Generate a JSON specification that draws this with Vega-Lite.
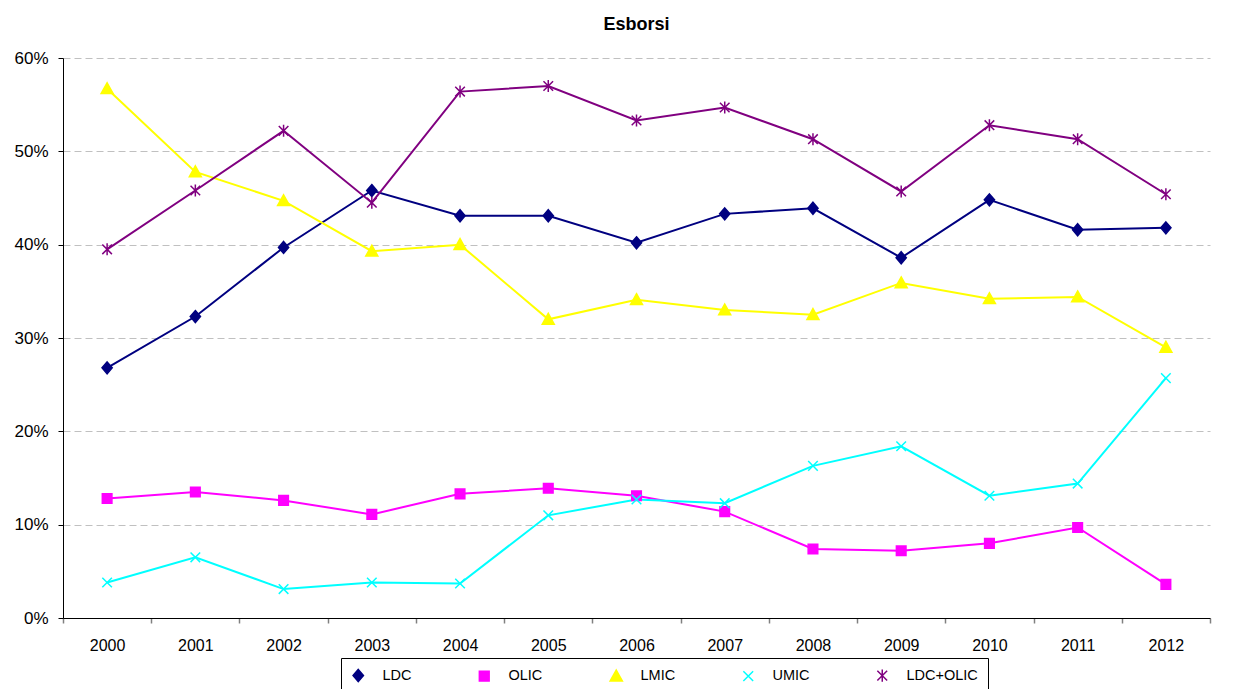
{
  "$schema": "https://vega.github.io/schema/vega-lite/v6.json",
  "width": 1147,
  "height": 560,
  "autosize": {"type": "none"},
  "padding": {"left": 63, "top": 58, "right": 34, "bottom": 71},
  "background": "white",
  "title": {
    "text": "Esborsi",
    "font": "Liberation Sans",
    "fontSize": 18,
    "fontWeight": "bold",
    "color": "black",
    "anchor": "middle",
    "frame": "group",
    "offset": 15
  },
  "config": {
    "view": {"stroke": null},
    "font": "Liberation Sans",
    "axis": {
      "labelFont": "Liberation Sans",
      "labelColor": "black",
      "domainColor": "black",
      "domainWidth": 1
    },
    "legend": {
      "title": null,
      "orient": "none",
      "legendX": 278,
      "legendY": 600,
      "direction": "horizontal",
      "columns": 5,
      "symbolSize": 150,
      "symbolStrokeWidth": 1.5,
      "labelOffset": 17,
      "columnPadding": 64,
      "padding": 10,
      "strokeColor": "black",
      "labelFont": "Liberation Sans",
      "labelFontSize": 14.5,
      "labelColor": "black",
      "labelLimit": 200
    }
  },
  "data": {
    "values": [
      {"year": "2000", "series": "LDC", "value": 0.268},
      {"year": "2001", "series": "LDC", "value": 0.323},
      {"year": "2002", "series": "LDC", "value": 0.397},
      {"year": "2003", "series": "LDC", "value": 0.458},
      {"year": "2004", "series": "LDC", "value": 0.431},
      {"year": "2005", "series": "LDC", "value": 0.431},
      {"year": "2006", "series": "LDC", "value": 0.402},
      {"year": "2007", "series": "LDC", "value": 0.433},
      {"year": "2008", "series": "LDC", "value": 0.439},
      {"year": "2009", "series": "LDC", "value": 0.386},
      {"year": "2010", "series": "LDC", "value": 0.448},
      {"year": "2011", "series": "LDC", "value": 0.416},
      {"year": "2012", "series": "LDC", "value": 0.418},
      {"year": "2000", "series": "OLIC", "value": 0.128},
      {"year": "2001", "series": "OLIC", "value": 0.135},
      {"year": "2002", "series": "OLIC", "value": 0.126},
      {"year": "2003", "series": "OLIC", "value": 0.111},
      {"year": "2004", "series": "OLIC", "value": 0.133},
      {"year": "2005", "series": "OLIC", "value": 0.139},
      {"year": "2006", "series": "OLIC", "value": 0.131},
      {"year": "2007", "series": "OLIC", "value": 0.114},
      {"year": "2008", "series": "OLIC", "value": 0.074},
      {"year": "2009", "series": "OLIC", "value": 0.072},
      {"year": "2010", "series": "OLIC", "value": 0.080},
      {"year": "2011", "series": "OLIC", "value": 0.097},
      {"year": "2012", "series": "OLIC", "value": 0.036},
      {"year": "2000", "series": "LMIC", "value": 0.567},
      {"year": "2001", "series": "LMIC", "value": 0.478},
      {"year": "2002", "series": "LMIC", "value": 0.447},
      {"year": "2003", "series": "LMIC", "value": 0.393},
      {"year": "2004", "series": "LMIC", "value": 0.400},
      {"year": "2005", "series": "LMIC", "value": 0.320},
      {"year": "2006", "series": "LMIC", "value": 0.341},
      {"year": "2007", "series": "LMIC", "value": 0.330},
      {"year": "2008", "series": "LMIC", "value": 0.325},
      {"year": "2009", "series": "LMIC", "value": 0.359},
      {"year": "2010", "series": "LMIC", "value": 0.342},
      {"year": "2011", "series": "LMIC", "value": 0.344},
      {"year": "2012", "series": "LMIC", "value": 0.290},
      {"year": "2000", "series": "UMIC", "value": 0.038},
      {"year": "2001", "series": "UMIC", "value": 0.065},
      {"year": "2002", "series": "UMIC", "value": 0.031},
      {"year": "2003", "series": "UMIC", "value": 0.038},
      {"year": "2004", "series": "UMIC", "value": 0.037},
      {"year": "2005", "series": "UMIC", "value": 0.110},
      {"year": "2006", "series": "UMIC", "value": 0.127},
      {"year": "2007", "series": "UMIC", "value": 0.123},
      {"year": "2008", "series": "UMIC", "value": 0.163},
      {"year": "2009", "series": "UMIC", "value": 0.184},
      {"year": "2010", "series": "UMIC", "value": 0.131},
      {"year": "2011", "series": "UMIC", "value": 0.144},
      {"year": "2012", "series": "UMIC", "value": 0.257},
      {"year": "2000", "series": "LDC+OLIC", "value": 0.395},
      {"year": "2001", "series": "LDC+OLIC", "value": 0.458},
      {"year": "2002", "series": "LDC+OLIC", "value": 0.522},
      {"year": "2003", "series": "LDC+OLIC", "value": 0.445},
      {"year": "2004", "series": "LDC+OLIC", "value": 0.564},
      {"year": "2005", "series": "LDC+OLIC", "value": 0.570},
      {"year": "2006", "series": "LDC+OLIC", "value": 0.533},
      {"year": "2007", "series": "LDC+OLIC", "value": 0.547},
      {"year": "2008", "series": "LDC+OLIC", "value": 0.513},
      {"year": "2009", "series": "LDC+OLIC", "value": 0.457},
      {"year": "2010", "series": "LDC+OLIC", "value": 0.528},
      {"year": "2011", "series": "LDC+OLIC", "value": 0.513},
      {"year": "2012", "series": "LDC+OLIC", "value": 0.454}
    ]
  },
  "encoding": {
    "x": {
      "field": "year",
      "type": "ordinal",
      "bandPosition": 0.5,
      "scale": {"type": "band", "paddingInner": 0, "paddingOuter": 0},
      "axis": {
        "title": null,
        "labelAngle": 0,
        "labelFontSize": 16,
        "tickBand": "extent",
        "tickSize": 5,
        "tickColor": "#808080",
        "tickWidth": 1.5,
        "labelPadding": 14,
        "grid": false
      }
    },
    "y": {
      "field": "value",
      "type": "quantitative",
      "scale": {"domain": [0, 0.6], "nice": false, "zero": true},
      "axis": {
        "title": null,
        "format": ".0%",
        "values": [0, 0.1, 0.2, 0.3, 0.4, 0.5, 0.6],
        "labelFontSize": 17,
        "labelOverlap": false,
        "tickSize": 5,
        "tickColor": "black",
        "labelPadding": 10,
        "grid": true,
        "gridColor": "#c0c0c0",
        "gridDash": [7, 4],
        "gridWidth": 1
      }
    }
  },
  "layer": [
    {
      "mark": {"type": "line", "strokeWidth": 2},
      "encoding": {
        "color": {
          "field": "series",
          "type": "nominal",
          "scale": {
            "domain": ["LDC", "OLIC", "LMIC", "UMIC", "LDC+OLIC"],
            "range": ["#000080", "#ff00ff", "#ffff00", "#00ffff", "#800080"]
          }
        },
        "order": {"field": "year", "type": "ordinal"}
      }
    },
    {
      "mark": {"type": "point", "filled": true, "size": 144, "strokeWidth": 1.5, "opacity": 1},
      "encoding": {
        "fill": {
          "field": "series",
          "type": "nominal",
          "scale": {
            "domain": ["LDC", "OLIC", "LMIC", "UMIC", "LDC+OLIC"],
            "range": ["#000080", "#ff00ff", "#ffff00", "#00ffff", "#800080"]
          }
        },
        "stroke": {
          "field": "series",
          "type": "nominal",
          "scale": {
            "domain": ["LDC", "OLIC", "LMIC", "UMIC", "LDC+OLIC"],
            "range": ["#000080", "#ff00ff", "#ffff00", "#00ffff", "#800080"]
          }
        },
        "shape": {
          "field": "series",
          "type": "nominal",
          "scale": {
            "domain": ["LDC", "OLIC", "LMIC", "UMIC", "LDC+OLIC"],
            "range": [
              "M0,-1L0.85,0L0,1L-0.85,0Z",
              "M-0.8,-0.8L0.8,-0.8L0.8,0.8L-0.8,0.8Z",
              "M0,-1L1,0.8L-1,0.8Z",
              "M-0.8,-0.8L0.8,0.8M-0.8,0.8L0.8,-0.8",
              "M-0.8,-0.8L0.8,0.8M-0.8,0.8L0.8,-0.8M0,-1L0,1"
            ]
          }
        }
      }
    }
  ]
}
